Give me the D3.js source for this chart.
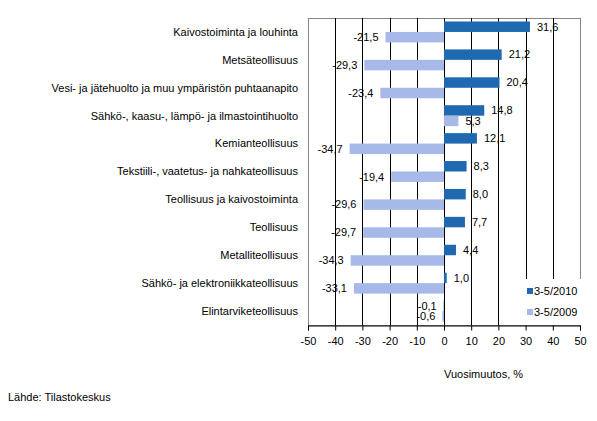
<!DOCTYPE html>
<html><head><meta charset="utf-8">
<script src="https://cdn.jsdelivr.net/npm/d3@7"></script>
<style>body{margin:0;background:#fff}svg{display:block}text{font-family:"Liberation Sans",Arial,sans-serif;font-size:11px;fill:#000}</style>
</head><body>
<script>
const categories = ["Kaivostoiminta ja louhinta","Metsäteollisuus","Vesi- ja jätehuolto ja muu ympäristön puhtaanapito","Sähkö-, kaasu-, lämpö- ja ilmastointihuolto","Kemianteollisuus","Tekstiili-, vaatetus- ja nahkateollisuus","Teollisuus ja kaivostoiminta","Teollisuus","Metalliteollisuus","Sähkö- ja elektroniikkateollisuus","Elintarviketeollisuus"];
const series2010 = [31.6,21.2,20.4,14.8,12.1,8.3,8.0,7.7,4.4,1.0,-0.1];
const series2009 = [-21.5,-29.3,-23.4,5.3,-34.7,-19.4,-29.6,-29.7,-34.3,-33.1,-0.6];
const seriesNames = ["3-5/2010","3-5/2009"];
const tickValues = [-50,-40,-30,-20,-10,0,10,20,30,40,50];
const colors = ["#1f69b1","#a6b9e8"];

const W=597,H=421;
const svg=d3.select("body").append("svg").attr("width",W).attr("height",H);
const L=308,R=580,T=18,B=325;
const x=d3.scaleLinear().domain([-50,50]).range([L,R]);
const y=d3.scaleBand().domain(categories).range([T,B]).paddingInner(0.25).paddingOuter(0.125);
const sub=d3.scaleBand().domain([0,1]).range([0,y.bandwidth()]);

// frame
svg.append("rect").attr("x",L+0.5).attr("y",T+0.5).attr("width",R-L).attr("height",B-T).attr("fill","none").attr("stroke","#868686").attr("stroke-width",1);
// gridlines
svg.append("g").selectAll("line").data(tickValues.filter(v=>v>-50&&v<50)).join("line")
  .attr("x1",d=>Math.round(x(d))+0.5).attr("x2",d=>Math.round(x(d))+0.5).attr("y1",T).attr("y2",B).attr("stroke","#000");

const fmt=v=>d3.format(".1f")(v).replace(".",",").replace("−","-");
const data=[series2010,series2009];
data.forEach((s,si)=>{
  const g=svg.append("g");
  g.selectAll("rect").data(s).join("rect")
    .attr("x",d=>x(Math.min(0,d))).attr("width",d=>Math.abs(x(d)-x(0)))
    .attr("y",(d,i)=>y(categories[i])+sub(si)).attr("height",sub.bandwidth())
    .attr("fill",colors[si]);
  g.selectAll("text").data(s).join("text")
    .attr("x",d=>d>=0?x(d)+7:x(d)-7)
    .attr("text-anchor",d=>d>=0?"start":"end")
    .attr("y",(d,i)=>y(categories[i])+sub(si)+sub.bandwidth()/2)
    .attr("dy","0.35em").text(d=>fmt(d));
});

// category labels
svg.append("g").selectAll("text").data(categories).join("text")
  .attr("x",298).attr("y",d=>y(d)+y.bandwidth()/2).attr("dy","0.35em")
  .attr("text-anchor","end").text(d=>d);

// x axis
const ax=svg.append("g").attr("transform",`translate(0,${B+0.5})`)
  .call(d3.axisBottom(x).tickValues(tickValues).tickSize(5).tickPadding(7).tickFormat(d=>String(d)));
ax.select(".domain").attr("stroke","#000");
ax.selectAll(".tick line").attr("stroke","#000");
ax.selectAll("text").style("font-size","11px").attr("font-family","Liberation Sans, Arial, sans-serif");

// legend (white box covering gridlines)
const lg=svg.append("g");
lg.append("rect").attr("x",516).attr("y",279).attr("width",66).attr("height",46).attr("fill","#fff");
seriesNames.forEach((n,i)=>{
  const ly=291+i*21;
  lg.append("rect").attr("x",527).attr("y",ly-3).attr("width",6).attr("height",6).attr("fill",colors[i]);
  lg.append("text").attr("x",534).attr("y",ly).attr("dy","0.35em").text(n);
});

svg.append("text").attr("x",444).attr("y",378).text("Vuosimuutos, %");
svg.append("text").attr("x",8).attr("y",401).text("Lähde: Tilastokeskus");
</script>
</body></html>
